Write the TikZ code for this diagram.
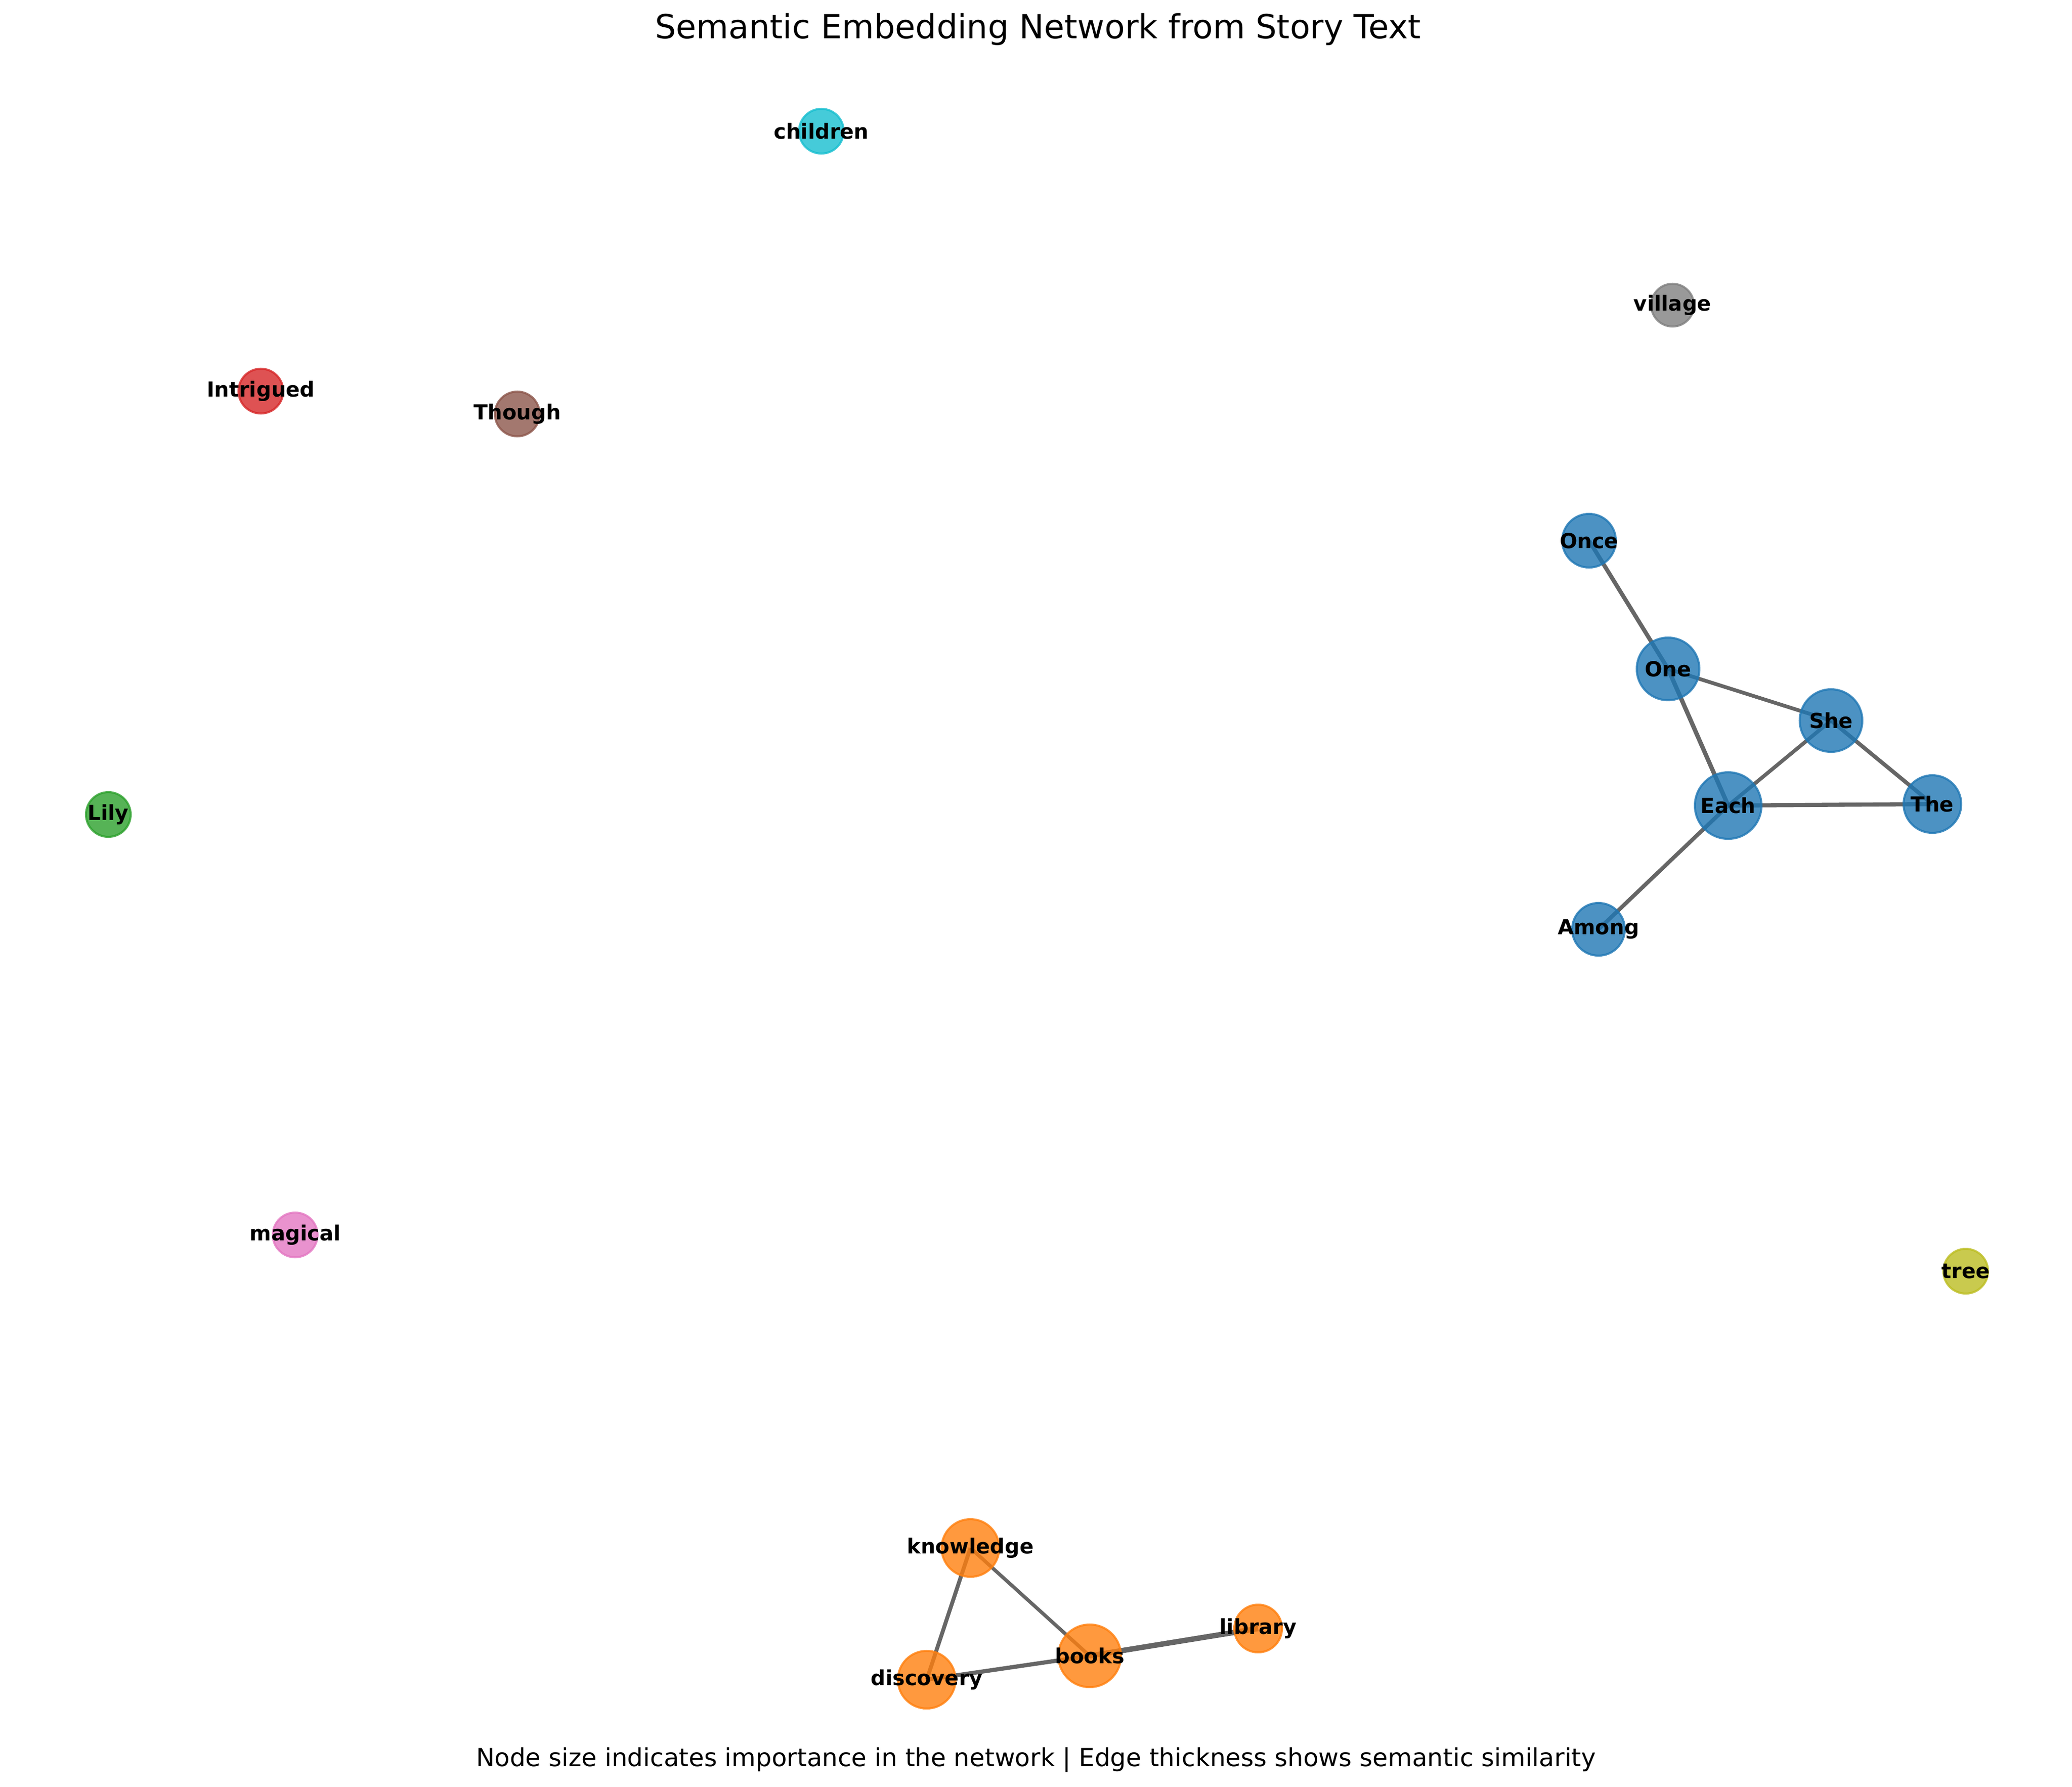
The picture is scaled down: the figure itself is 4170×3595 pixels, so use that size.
\documentclass[tikz,border=0pt]{standalone}
\usepackage{fontspec}
\setmainfont{DejaVu Sans}

\definecolor{tabblue}{HTML}{1F77B4}
\definecolor{taborange}{HTML}{FF7F0E}
\definecolor{tabgreen}{HTML}{2CA02C}
\definecolor{tabred}{HTML}{D62728}
\definecolor{tabbrown}{HTML}{8C564B}
\definecolor{tabpink}{HTML}{E377C2}
\definecolor{tabgray}{HTML}{7F7F7F}
\definecolor{tabolive}{HTML}{BCBD22}
\definecolor{tabcyan}{HTML}{17BECF}

\begin{document}
\begin{tikzpicture}[x=0.24pt,y=-0.24pt,
                    word node/.style={circle,draw=#1,fill=#1,line width=1pt,
                      fill opacity=0.8,draw opacity=0.8,inner sep=0pt},
                    rad/.style={minimum size=#1*0.48pt},
                    every label/.style={text opacity=1,fill opacity=1,inner sep=0pt,
                      font=\bfseries\fontsize{10}{12}\selectfont},
                    link/.style={draw=black,draw opacity=0.6,line width=#1}]

  \useasboundingbox (0,0) rectangle (4170,3595);

  \node[font=\fontsize{16}{19}\selectfont] (title) at (2089,59) {Semantic Embedding Network from Story Text};
  \node[font=\fontsize{12}{14}\selectfont] (caption) at (2085,3541) {Node size indicates importance in the network | Edge thickness shows semantic similarity};

  % edges first, nodes on top
  \coordinate (cOnce) at (3198,1088);
  \coordinate (cOne) at (3357,1346);
  \coordinate (cShe) at (3685,1450);
  \coordinate (cEach) at (3478,1621);
  \coordinate (cThe) at (3889,1618);
  \coordinate (cAmong) at (3217,1870);
  \coordinate (cknowledge) at (1953,3115);
  \coordinate (cdiscovery) at (1865,3380);
  \coordinate (cbooks) at (2193,3332);
  \coordinate (clibrary) at (2532,3277);

  \path
    (cOnce) edge[link=2pt] (cOne)
    (cOne) edge[link=1.8pt] (cShe)
    (cOne) edge[link=2.1pt] (cEach)
    (cShe) edge[link=1.8pt] (cEach)
    (cShe) edge[link=1.9pt] (cThe)
    (cEach) edge[link=2pt] (cThe)
    (cEach) edge[link=1.9pt] (cAmong)
    (cknowledge) edge[link=1.9pt] (cdiscovery)
    (cknowledge) edge[link=1.7pt] (cbooks)
    (cdiscovery) edge[link=2pt] (cbooks)
    (cbooks) edge[link=2.6pt] (clibrary);

  \node[word node=tabblue,rad=54,label=center:Once] (Once) at (cOnce) {};
  \node[word node=tabblue,rad=63,label=center:One] (One) at (cOne) {};
  \node[word node=tabblue,rad=63,label=center:She] (She) at (cShe) {};
  \node[word node=tabblue,rad=67,label=center:Each] (Each) at (cEach) {};
  \node[word node=tabblue,rad=58,label=center:The] (The) at (cThe) {};
  \node[word node=tabblue,rad=53,label=center:Among] (Among) at (cAmong) {};

  \node[word node=taborange,rad=58,label=center:knowledge] (knowledge) at (cknowledge) {};
  \node[word node=taborange,rad=58,label=center:discovery] (discovery) at (cdiscovery) {};
  \node[word node=taborange,rad=63,label=center:books] (books) at (cbooks) {};
  \node[word node=taborange,rad=48,label=center:library] (library) at (clibrary) {};

  \node[word node=tabcyan,rad=45,label=center:children] (children) at (1653,264) {};
  \node[word node=tabgray,rad=43,label=center:village] (village) at (3366,614) {};
  \node[word node=tabred,rad=45,label=center:Intrigued] (Intrigued) at (525,787) {};
  \node[word node=tabbrown,rad=45,label=center:Though] (Though) at (1041,833) {};
  \node[word node=tabgreen,rad=45,label=center:Lily] (Lily) at (218,1639) {};
  \node[word node=tabpink,rad=45,label=center:magical] (magical) at (594,2485) {};
  \node[word node=tabolive,rad=45,label=center:tree] (tree) at (3956,2558) {};

\end{tikzpicture}
\end{document}
